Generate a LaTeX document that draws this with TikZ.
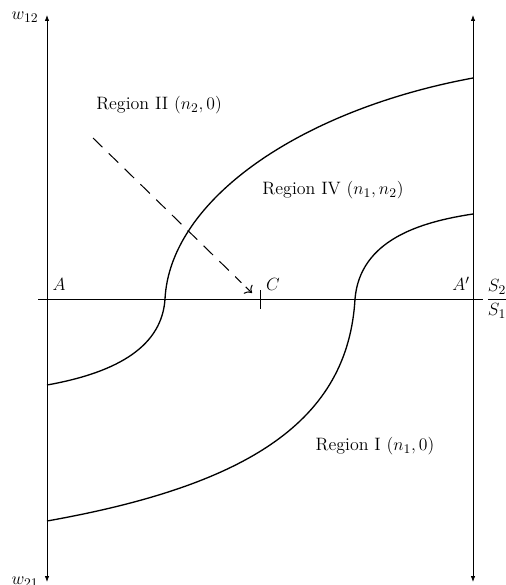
\documentclass[tikz,border=0pt]{standalone}
\usetikzlibrary{arrows.meta,calc}
\begin{document}
\begin{tikzpicture}[x=0.68pt,y=-0.68pt,
  axis/.style={line width=0.5pt,-{Latex[length=4pt,width=3pt]}},
  curve/.style={line width=0.9pt},
  lbl/.style={inner sep=0pt,font=\fontsize{12.2pt}{14pt}\selectfont}]
\useasboundingbox (0,0) rectangle (506,585);
% axes
\coordinate (Lb) at (47,582);
\coordinate (Lt) at (47,15);
\coordinate (Rb) at (473,582);
\coordinate (Rt) at (473,15);
\coordinate (Hl) at (38,299);
\coordinate (Hr) at (483,299);
\draw[line width=0.5pt] (Hl) -- (Hr);
\draw[axis] (47,299) -- (Lt);
\draw[axis] (47,299) -- (Lb);
\draw[axis] (473,299) -- (Rt);
\draw[axis] (473,299) -- (Rb);
\coordinate (Ct) at (260,290);
\coordinate (Cb) at (260,309);
\draw[line width=0.5pt] (Ct) -- (Cb);
% labels
\node[lbl] (w12) at (25,17) {$w_{12}$};
\node[lbl] (w21) at (25,582) {$w_{21}$};
\node[lbl] (A) at (59,284) {$A$};
\node[lbl] (C) at (273,284) {$C$};
\node[lbl] (Ap) at (461,284) {$A'$};
\node[lbl] (S) at (497,299) {$\displaystyle\frac{S_2}{S_1}$};
\node[lbl] (R2) at (159,105) {Region II $(n_2,0)$};
\node[lbl] (R4) at (333,190) {Region IV $(n_1,n_2)$};
\node[lbl] (R1) at (375,446) {Region I $(n_1,0)$};
% curves
\draw[curve] (47,385) .. controls (120,372) and (162,345) .. (165,299)
  .. controls (170,200) and (300,110) .. (473,78);
\draw[curve] (47,521) .. controls (250,485) and (348,420) .. (355,299)
  .. controls (360,240) and (420,222) .. (473,214);
% dashed arrow
\coordinate (D0) at (93,138);
\coordinate (D1) at (252,293);
\draw[line width=0.7pt,dash pattern=on 9pt off 6pt] (D0) -- ($(D1)!10pt!(D0)$);
\draw[line width=0.7pt,-{To[length=4pt]}] ($(D1)!6pt!(D0)$) -- (D1);
\end{tikzpicture}
\end{document}
